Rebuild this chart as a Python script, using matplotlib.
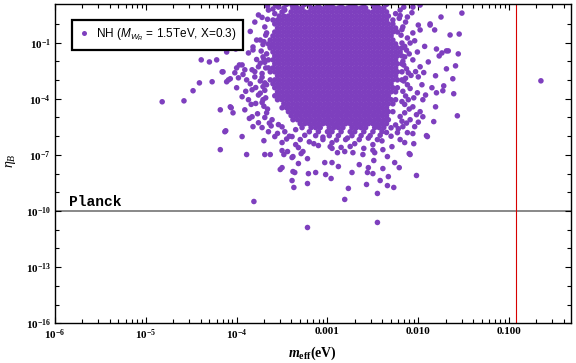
import numpy as np
import matplotlib
matplotlib.use("Agg")
import matplotlib.pyplot as plt
from matplotlib.lines import Line2D
from matplotlib.ticker import LogLocator, NullFormatter, FixedLocator

plt.rcParams['mathtext.fontset'] = 'custom'
plt.rcParams['mathtext.rm'] = 'Liberation Serif:bold'
plt.rcParams['mathtext.it'] = 'Liberation Serif:italic'
plt.rcParams['mathtext.bf'] = 'Liberation Serif:italic:bold'
plt.rcParams['mathtext.sf'] = 'Liberation Sans:italic'

# ---------------- data (log10 values) ----------------
# dense core of the scan: one list of log10(m_eff) per row of log10(eta_B)
core_log_eta = [1.05, 0.85, 0.64, 0.42, 0.21, 0.00, -0.22, -0.43, -0.64, -0.86,
                -1.07, -1.28, -1.50, -1.71, -1.92, -2.13, -2.35, -2.56, -2.77, -2.99,
                -3.20, -3.41, -3.63, -3.84, -4.05, -4.27, -4.48, -4.69, -4.90, -5.12,
                -5.33, -5.54, -5.76, -5.97, -6.18]
core_log_meff = [
    [-3.45,-3.35,-3.25,-3.20,-3.10,-3.00,-2.95,-2.85,-2.75,-2.70,-2.60,-2.50,-2.45,-2.35],
    [-3.48,-3.38,-3.33,-3.28,-3.18,-3.13,-3.08,-3.03,-2.98,-2.93,-2.88,-2.83,-2.78,-2.73,-2.68,-2.63,-2.58,-2.48,-2.43,-2.38],
    [-3.50,-3.40,-3.35,-3.30,-3.25,-3.20,-3.15,-3.10,-3.05,-3.00,-2.95,-2.90,-2.85,-2.80,-2.75,-2.70,-2.65,-2.60,-2.55,-2.50,-2.45,-2.40,-2.35],
    [-3.53,-3.48,-3.43,-3.38,-3.33,-3.28,-3.23,-3.18,-3.13,-3.08,-3.03,-2.98,-2.93,-2.88,-2.83,-2.78,-2.73,-2.68,-2.63,-2.58,-2.53,-2.48,-2.43,-2.38,-2.33],
    [-3.55,-3.50,-3.45,-3.40,-3.35,-3.30,-3.25,-3.20,-3.15,-3.10,-3.05,-3.00,-2.95,-2.90,-2.85,-2.80,-2.75,-2.70,-2.65,-2.60,-2.55,-2.50,-2.45,-2.40,-2.35],
    [-3.58,-3.53,-3.48,-3.43,-3.38,-3.33,-3.28,-3.23,-3.18,-3.13,-3.08,-3.03,-2.98,-2.93,-2.88,-2.83,-2.78,-2.73,-2.68,-2.63,-2.58,-2.53,-2.48,-2.43,-2.38,-2.33,-2.28],
    [-3.55,-3.50,-3.45,-3.40,-3.35,-3.30,-3.25,-3.20,-3.15,-3.10,-3.05,-3.00,-2.95,-2.90,-2.85,-2.80,-2.75,-2.70,-2.65,-2.60,-2.55,-2.50,-2.45,-2.40,-2.35,-2.30,-2.25],
    [-3.58,-3.53,-3.48,-3.43,-3.38,-3.33,-3.28,-3.23,-3.18,-3.13,-3.08,-3.03,-2.98,-2.93,-2.88,-2.83,-2.78,-2.73,-2.68,-2.63,-2.58,-2.53,-2.48,-2.43,-2.38,-2.33,-2.28,-2.23],
    [-3.60,-3.55,-3.50,-3.45,-3.40,-3.35,-3.30,-3.25,-3.20,-3.15,-3.10,-3.05,-3.00,-2.95,-2.90,-2.85,-2.80,-2.75,-2.70,-2.65,-2.60,-2.55,-2.50,-2.45,-2.40,-2.35,-2.30],
    [-3.63,-3.58,-3.53,-3.48,-3.43,-3.38,-3.33,-3.28,-3.23,-3.18,-3.13,-3.08,-3.03,-2.98,-2.93,-2.88,-2.83,-2.78,-2.73,-2.68,-2.63,-2.58,-2.53,-2.48,-2.43,-2.38,-2.33,-2.28],
    [-3.65,-3.60,-3.55,-3.50,-3.45,-3.40,-3.35,-3.30,-3.25,-3.20,-3.15,-3.10,-3.05,-3.00,-2.95,-2.90,-2.85,-2.80,-2.75,-2.70,-2.65,-2.60,-2.55,-2.50,-2.45,-2.40,-2.35,-2.30,-2.25],
    [-3.63,-3.58,-3.53,-3.48,-3.43,-3.38,-3.33,-3.28,-3.23,-3.18,-3.13,-3.08,-3.03,-2.98,-2.93,-2.88,-2.83,-2.78,-2.73,-2.68,-2.63,-2.58,-2.53,-2.48,-2.43,-2.38,-2.33,-2.28,-2.23,-2.18],
    [-3.60,-3.55,-3.50,-3.45,-3.40,-3.35,-3.30,-3.25,-3.20,-3.15,-3.10,-3.05,-3.00,-2.95,-2.90,-2.85,-2.80,-2.75,-2.70,-2.65,-2.60,-2.55,-2.50,-2.45,-2.40,-2.35,-2.30,-2.25,-2.20],
    [-3.58,-3.53,-3.48,-3.43,-3.38,-3.33,-3.28,-3.23,-3.18,-3.13,-3.08,-3.03,-2.98,-2.93,-2.88,-2.83,-2.78,-2.73,-2.68,-2.63,-2.58,-2.53,-2.48,-2.43,-2.38,-2.33,-2.28,-2.23,-2.18],
    [-3.65,-3.60,-3.55,-3.50,-3.45,-3.40,-3.35,-3.30,-3.25,-3.20,-3.15,-3.10,-3.05,-3.00,-2.95,-2.90,-2.85,-2.80,-2.75,-2.70,-2.65,-2.60,-2.55,-2.50,-2.45,-2.40,-2.35,-2.30,-2.25],
    [-3.58,-3.53,-3.48,-3.43,-3.38,-3.33,-3.28,-3.23,-3.18,-3.13,-3.08,-3.03,-2.98,-2.93,-2.88,-2.83,-2.78,-2.73,-2.68,-2.63,-2.58,-2.53,-2.48,-2.43,-2.38,-2.33,-2.28,-2.23,-2.18],
    [-3.65,-3.60,-3.55,-3.50,-3.45,-3.40,-3.35,-3.30,-3.25,-3.20,-3.15,-3.10,-3.05,-3.00,-2.95,-2.90,-2.85,-2.80,-2.75,-2.70,-2.65,-2.60,-2.55,-2.50,-2.45,-2.40,-2.35,-2.30,-2.25],
    [-3.63,-3.58,-3.53,-3.48,-3.43,-3.38,-3.33,-3.28,-3.23,-3.18,-3.13,-3.08,-3.03,-2.98,-2.93,-2.88,-2.83,-2.78,-2.73,-2.68,-2.63,-2.58,-2.53,-2.48,-2.43,-2.38,-2.33,-2.28,-2.23,-2.18],
    [-3.55,-3.50,-3.45,-3.40,-3.35,-3.30,-3.25,-3.20,-3.15,-3.10,-3.05,-3.00,-2.95,-2.90,-2.85,-2.80,-2.75,-2.70,-2.65,-2.60,-2.55,-2.50,-2.45,-2.40,-2.35,-2.30,-2.25],
    [-3.63,-3.58,-3.53,-3.48,-3.43,-3.38,-3.33,-3.28,-3.23,-3.18,-3.13,-3.08,-3.03,-2.98,-2.93,-2.88,-2.83,-2.78,-2.73,-2.68,-2.63,-2.58,-2.53,-2.48,-2.43,-2.38,-2.33,-2.28,-2.23,-2.18],
    [-3.60,-3.55,-3.50,-3.45,-3.40,-3.35,-3.30,-3.25,-3.20,-3.15,-3.10,-3.05,-3.00,-2.95,-2.90,-2.85,-2.80,-2.75,-2.70,-2.65,-2.60,-2.55,-2.50,-2.45,-2.40,-2.35,-2.30],
    [-3.58,-3.53,-3.48,-3.43,-3.38,-3.33,-3.28,-3.23,-3.18,-3.13,-3.08,-3.03,-2.98,-2.93,-2.88,-2.83,-2.78,-2.73,-2.68,-2.63,-2.58,-2.53,-2.48,-2.43,-2.38,-2.33,-2.28,-2.23],
    [-3.55,-3.50,-3.45,-3.40,-3.35,-3.30,-3.25,-3.20,-3.15,-3.10,-3.05,-3.00,-2.95,-2.90,-2.85,-2.80,-2.75,-2.70,-2.65,-2.60,-2.55,-2.50,-2.45,-2.40,-2.35,-2.30,-2.25],
    [-3.58,-3.53,-3.48,-3.43,-3.38,-3.33,-3.28,-3.23,-3.18,-3.13,-3.08,-3.03,-2.98,-2.93,-2.88,-2.83,-2.78,-2.73,-2.68,-2.63,-2.58,-2.53,-2.48,-2.43,-2.38,-2.33],
    [-3.55,-3.50,-3.45,-3.40,-3.35,-3.30,-3.25,-3.20,-3.15,-3.10,-3.05,-3.00,-2.95,-2.90,-2.85,-2.80,-2.75,-2.70,-2.65,-2.60,-2.55,-2.50,-2.45,-2.40,-2.35,-2.30,-2.25],
    [-3.48,-3.43,-3.38,-3.33,-3.28,-3.23,-3.18,-3.13,-3.08,-3.03,-2.98,-2.93,-2.88,-2.83,-2.78,-2.73,-2.68,-2.63,-2.58,-2.53,-2.48,-2.43,-2.38,-2.33,-2.28],
    [-3.50,-3.45,-3.40,-3.35,-3.30,-3.25,-3.20,-3.15,-3.10,-3.05,-3.00,-2.95,-2.90,-2.85,-2.80,-2.75,-2.70,-2.65,-2.60,-2.55,-2.50,-2.45,-2.40,-2.35],
    [-3.43,-3.38,-3.33,-3.28,-3.23,-3.18,-3.13,-3.08,-3.03,-2.98,-2.93,-2.88,-2.83,-2.78,-2.73,-2.68,-2.63,-2.58,-2.53,-2.48,-2.43,-2.38,-2.33,-2.28],
    [-3.40,-3.35,-3.30,-3.25,-3.20,-3.15,-3.10,-3.05,-3.00,-2.95,-2.90,-2.85,-2.80,-2.75,-2.70,-2.65,-2.60,-2.55,-2.50,-2.45,-2.40,-2.35],
    [-3.38,-3.33,-3.28,-3.23,-3.18,-3.13,-3.08,-3.03,-2.98,-2.93,-2.88,-2.83,-2.78,-2.73,-2.68,-2.63,-2.58,-2.53,-2.48,-2.43,-2.38,-2.33],
    [-3.30,-3.25,-3.20,-3.15,-3.10,-3.05,-3.00,-2.95,-2.90,-2.85,-2.80,-2.75,-2.70,-2.65,-2.60,-2.55,-2.50,-2.45,-2.40,-2.35],
    [-3.28,-3.18,-3.13,-3.08,-2.98,-2.93,-2.88,-2.83,-2.73,-2.68,-2.63,-2.58,-2.48,-2.43,-2.38],
    [-3.20,-3.10,-3.00,-2.95,-2.85,-2.75,-2.70,-2.60,-2.50,-2.40],
    [-3.13,-2.98,-2.88,-2.73,-2.63,-2.53],
    [-3.05,-2.80,-2.65,-2.45],
]

# scattered points around the core and isolated outliers (log10 m_eff, log10 eta_B)
halo_log_meff = [
    -3.76,-3.65,-3.69,-3.74,-3.82,-3.87,-3.94,-4.02,-4.09,-4.15,-3.98,-4.00,-3.94,-3.87,-3.83,-3.80,
    -3.76,-3.83,-3.89,-4.18,-4.07,-4.04,-3.91,-3.83,-3.76,-3.72,-3.82,-3.94,-4.13,-4.18,-3.89,-3.69,
    -3.63,-3.50,-3.44,-3.38,-3.32,-3.27,-3.58,-3.65,-3.54,-3.47,-3.39,-3.60,-3.67,-3.63,-3.71,-3.69,
    -3.71,-3.67,-3.61,-3.54,-3.47,-3.39,-3.30,
    -3.70,-3.73,-3.69,-3.72,-3.74,-3.69,-3.76,-3.70,-3.79,-3.66,-3.58,-3.62,-3.55,-3.45,-3.35,-3.20,
    -3.10,-2.95,-2.85,-2.70,-2.60,-2.50,-2.40,-2.30,-2.22,-2.18,-2.15,-2.17,-2.14,-2.16,-2.13,-2.19,
    -2.21,-2.25,
    -2.20,-2.12,-2.17,-2.06,-2.09,-2.01,-2.06,-1.98,-2.00,-1.96,-2.01,-1.95,-2.06,-1.98,-2.09,-2.04,
    -2.12,-2.20,-2.29,-2.39,-2.48,-2.61,-2.72,-2.81,-2.89,-2.97,-2.34,-2.09,-1.90,-1.89,-1.87,-2.00,
    -2.17,-2.23,-2.15,-2.11,-2.12,-2.11,-2.15,-2.18,-2.28,-2.06,-1.98,
    -0.65,-1.52,-1.75,-1.55,-1.65,-1.87,-1.82,-1.98,-1.56,-1.59,-1.69,-1.62,-1.61,-1.57,-1.83,-1.91,
    -1.81,-1.81,-1.73,-1.72,-1.85,-1.80,-1.77,-1.74,-1.69,-1.67,-1.80,-1.95,-2.06,-2.10,-2.02,-2.21,
    -2.26,-2.33,
    -2.77,-2.81,-2.45,-2.57,-2.34,-2.27,-2.42,-3.22,-3.21,-3.13,-3.02,-2.96,-2.73,-2.56,-2.50,-3.22,
    -3.03,-2.95,-2.88,-2.65,-2.55,-2.49,-2.39,-2.05,-2.15,-3.81,-3.22,-2.45,-3.39,-3.37,-3.52,-3.50,
    -3.38,-3.36,-3.32,-3.39,-3.50,-3.29,-3.70,-4.12,-3.48,
    -4.82,-4.58,-4.48,-4.41,-4.39,-4.30,-4.22,-4.27,-4.06,-4.07,-4.00,-3.97,-3.91,-3.82,-3.78,-4.11,
    -4.01,-4.16,-4.11,
    -3.68,-3.71,-3.67,-3.70,-3.74,-3.68,-3.72,-3.67,-3.71,-3.74,-3.68,-3.72,-3.66,-3.69,-3.64,-3.78,
    -3.80,-3.85,-3.79,-3.84,-3.77,-3.86,-3.90,-3.93,-3.85,-3.80,-3.72,-3.66,-3.60,-3.57,
    -2.16,-2.20,-2.14,-2.18,-2.12,-2.15,-2.10,-2.17,-2.13,-2.08,-2.16,-2.09,-2.14,-2.18,-2.10,-2.20,
    -2.13,-2.25,-2.04,-2.03,-2.05,-2.02,-2.07,-1.93,-1.94,-1.92,-2.00,
    -3.35,-3.25,-3.05,-2.90,-2.78,-2.55,-2.35,-2.30,-2.42,-3.15,-2.95,-2.75,-2.50,-3.42,-3.50,
]
halo_log_eta = [
    0.48,0.74,-0.16,-0.86,-1.23,-1.55,-2.19,-2.61,-2.99,-2.56,-2.88,-3.41,-3.89,-4.05,-3.52,-2.83,
    -2.29,-2.45,-2.99,-4.59,-4.43,-4.75,-4.59,-4.96,-5.28,-5.54,-5.49,-6.02,-5.76,-6.72,-6.98,-6.98,
    -6.98,-6.34,-6.82,-7.09,-6.61,-6.82,-6.02,-5.76,0.90,0.74,1.01,0.21,-0.48,-1.23,-1.76,-3.15,
    -4.05,-4.75,-5.12,-5.38,-5.76,-6.02,-6.18,
    -0.95,-1.45,-2.05,-2.65,-3.05,-3.55,-3.80,-4.40,-4.25,0.25,0.55,-5.45,-5.85,-6.15,-6.45,-6.30,
    -6.50,-6.35,-6.60,-6.40,-6.65,-6.45,-6.25,-6.00,-5.60,-5.20,-4.30,-3.60,-2.90,-2.20,-1.40,-0.60,
    0.30,0.55,
    0.74,0.37,-0.16,-0.48,-1.02,-1.50,-1.92,-2.29,-2.83,-3.25,-3.68,-4.05,-4.43,-4.69,-5.12,-5.49,
    -5.81,-6.18,-6.56,-6.72,-6.88,-6.98,-6.88,-6.82,-6.88,-6.56,-7.09,-6.98,-6.02,-2.03,-0.06,-0.06,
    -5.49,-5.81,-4.75,-4.05,-3.25,-2.61,-1.76,-1.02,0.21,0.90,1.01,
    -3.04,0.58,0.37,-0.54,-0.59,0.00,-0.32,-0.32,-1.60,-2.24,-2.40,-2.93,-3.73,-4.91,-5.22,-5.97,
    -4.43,-2.77,-3.57,-3.31,-3.41,-1.34,-1.71,-1.55,-1.44,-1.44,-3.68,-4.96,-5.86,-6.93,-8.10,-7.68,
    -7.41,-8.16,
    -8.79,-9.38,-9.06,-8.58,-8.64,-8.74,-8.37,-8.53,-8.00,-7.94,-8.05,-8.26,-7.94,-7.94,-8.00,-7.20,
    -7.41,-7.41,-7.62,-7.52,-7.68,-7.30,-7.73,-6.40,-6.34,-9.49,-10.88,-10.61,-8.37,-8.74,-7.78,-7.68,
    -7.89,-7.94,-7.46,-7.14,-6.77,-6.93,-6.24,-5.71,-6.98,
    -4.16,-4.11,-3.57,-3.15,-1.92,-2.03,-1.92,-3.09,-4.48,-2.93,-2.35,-2.19,-2.45,-1.39,-0.86,-1.50,
    -1.34,-2.56,-3.09,
    -0.60,-1.10,-1.60,-1.90,-2.10,-2.35,-2.85,-3.25,-3.35,-3.70,-3.95,-4.20,-4.55,-5.00,-5.30,-1.90,
    -2.55,-3.20,-3.40,-4.30,-4.80,-5.05,-3.60,-2.70,-0.40,0.10,0.35,0.95,0.80,1.00,
    0.90,0.45,0.10,-0.30,-0.75,-1.20,-1.60,-2.00,-2.40,-2.75,-3.05,-3.45,-3.85,-4.15,-4.55,-4.95,
    -5.30,-5.40,-0.90,-2.55,-3.95,-4.85,0.60,-1.20,-2.60,-3.80,-5.25,
    -5.65,-5.95,-6.05,-6.20,-6.10,-6.10,-5.80,-5.55,-5.95,-6.40,-6.65,-6.55,-6.75,-6.00,-5.50,
]

planck_eta = 1e-10          # horizontal Planck line
meff_bound = 0.12           # vertical bound on m_eff (eV)

x_tick_vals = [1e-6, 1e-5, 1e-4, 1e-3, 1e-2, 1e-1]
x_tick_labels = [r'$10^{-6}$', r'$10^{-5}$', r'$10^{-4}$', '0.001', '0.010', '0.100']
y_tick_vals = [1e-16, 1e-13, 1e-10, 1e-7, 1e-4, 1e-1]
y_tick_labels = [r'$10^{-16}$', r'$10^{-13}$', r'$10^{-10}$', r'$10^{-7}$', r'$10^{-4}$', r'$10^{-1}$']
y_minor_vals = [1e-15, 1e-14, 1e-12, 1e-11, 1e-9, 1e-8, 1e-6, 1e-5, 1e-3, 1e-2, 1e0]

legend_label = r'NH ($\mathsf{M_{W_R}}$ = 1.5TeV, X=0.3)'

# ---------------- assemble ----------------
pts_x, pts_y = [], []
for ly, row in zip(core_log_eta, core_log_meff):
    pts_x.extend(row)
    pts_y.extend([ly] * len(row))
pts_x.extend(halo_log_meff)
pts_y.extend(halo_log_eta)
meff = 10.0 ** np.array(pts_x)
eta = 10.0 ** np.array(pts_y)

purple = '#7E3FBE'

fig = plt.figure(figsize=(5.76, 3.63), dpi=100)
ax = fig.add_axes([55/576, 1 - 323.3/363, (571 - 55)/576, (323.3 - 4.3)/363])

ax.axhline(planck_eta, color='#7f7f7f', lw=1.3, zorder=1)
ax.axvline(meff_bound, color='#d80000', lw=0.8, zorder=1)
ax.scatter(meff, eta, s=16, c=purple, edgecolors='none', zorder=2)

ax.set_xscale('log')
ax.set_yscale('log')
ax.set_xlim(1e-6, 0.48)
ax.set_ylim(1e-16, 10 ** 1.05)

tick_font = dict(fontfamily='Liberation Serif', fontweight='bold', fontsize=8)
ax.set_xticks(x_tick_vals, x_tick_labels, **tick_font)
ax.set_yticks(y_tick_vals, y_tick_labels, **tick_font)
ax.xaxis.set_minor_locator(LogLocator(base=10, subs=(2, 3, 4, 5, 6, 7, 8, 9)))
ax.xaxis.set_minor_formatter(NullFormatter())
ax.yaxis.set_minor_locator(FixedLocator(y_minor_vals))
ax.yaxis.set_minor_formatter(NullFormatter())
ax.tick_params(which='both', direction='in', top=True, right=True, width=0.8)
ax.tick_params(which='major', length=4.5, pad=3)
ax.tick_params(which='minor', length=2.6)
for sp in ax.spines.values():
    sp.set_linewidth(1.0)

ax.text(10 ** -5.846, 10 ** -9.75, 'Planck', fontfamily='Liberation Mono',
        fontweight='bold', fontsize=10.5, va='baseline', ha='left')

fig.text(312/576, 1 - 357/363, r'$\mathbf{m}_{\mathrm{eff}}$(eV)', ha='center',
         va='baseline', fontfamily='Liberation Serif', fontweight='bold', fontsize=10)
fig.text(11/576, 1 - 161/363, r'$\eta_B$', ha='center', va='center', rotation=90,
         fontsize=10)

handle = Line2D([], [], marker='o', linestyle='none', markersize=3.6,
                markerfacecolor=purple, markeredgecolor='none')
leg = ax.legend([handle], [legend_label], loc='upper left',
                bbox_to_anchor=((72 - 55)/516, (323.3 - 20)/319), borderaxespad=0,
                frameon=True, fancybox=False, edgecolor='black', framealpha=1,
                prop={'family': 'Liberation Sans', 'size': 8.5},
                handletextpad=0.5, handlelength=1.0, borderpad=0.55)
leg.get_frame().set_linewidth(1.6)

fig.savefig('out.png', dpi=100)
